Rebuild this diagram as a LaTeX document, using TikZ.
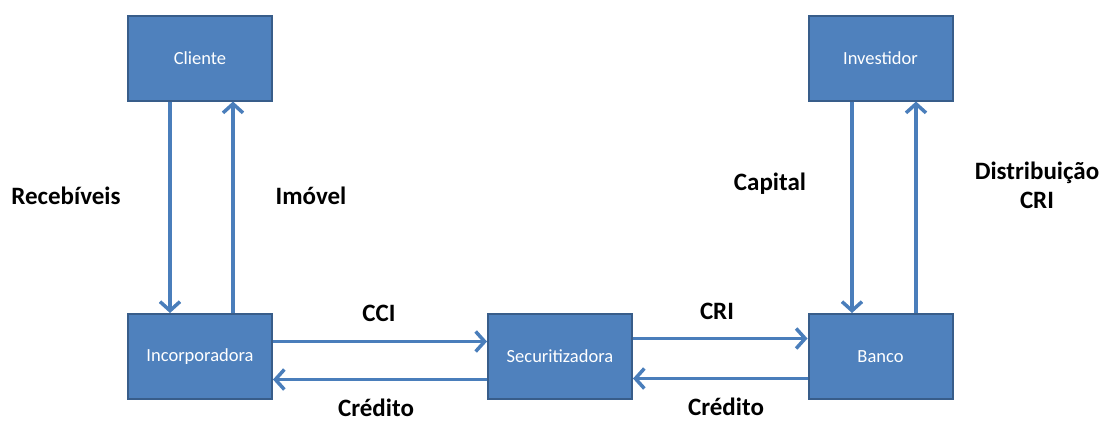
\documentclass[tikz,border=0pt]{standalone}
\usepackage{fontspec}
\setmainfont{Carlito}
\usetikzlibrary{arrows.meta}
\definecolor{boxfill}{RGB}{79,129,189}
\definecolor{boxline}{RGB}{56,93,138}
\definecolor{flow}{RGB}{74,126,187}

\tikzset{
  entity/.style={fill=boxfill, draw=boxline, line width=2pt,
                 minimum width=144pt, minimum height=85pt,
                 text=white, font=\fontsize{18.5}{22}\selectfont},
  flowarrow/.style={draw=flow, line width=3.5pt,
                    -{Straight Barb[length=9pt,width=20pt,line width=3.5pt]}},
  tag/.style={font=\fontsize{25}{29}\selectfont\bfseries, align=center,
              inner sep=0.5pt}
}

\begin{document}
\begin{tikzpicture}[x=1pt, y=-1pt]
  \useasboundingbox (0,0) rectangle (1104,421);

  % the five parties
  \node[entity] (cliente)  at (200,58)    {Cliente};
  \node[entity] (invest)   at (880.5,58)  {Investidor};
  \node[entity] (incorp)   at (200,356.5) {Incorporadora};
  \node[entity] (securit)  at (560,356.5) {Securitizadora};
  \node[entity] (banco)    at (880.5,356.5) {Banco};

  % vertical flows
  \draw[flowarrow] ([xshift=-30pt]cliente.south) -- ([xshift=-30pt]incorp.north);
  \draw[flowarrow] ([xshift=33pt]incorp.north) -- ([xshift=33pt]cliente.south);
  \draw[flowarrow] ([xshift=-28.5pt]invest.south) -- ([xshift=-28.5pt]banco.north);
  \draw[flowarrow] ([xshift=35.5pt]banco.north) -- ([xshift=35.5pt]invest.south);

  % horizontal flows
  \draw[flowarrow] ([yshift=15pt]incorp.east) -- ([yshift=15pt]securit.west);
  \draw[flowarrow] ([yshift=-23pt]securit.west) -- ([yshift=-23pt]incorp.east);
  \draw[flowarrow] ([yshift=18pt]securit.east) -- ([yshift=18pt]banco.west);
  \draw[flowarrow] ([yshift=-22pt]banco.west) -- ([yshift=-22pt]securit.east);

  % labels
  \node[tag] (recebiveis) at (66,196)   {Recebíveis};
  \node[tag] (imovel)     at (311,196)  {Imóvel};
  \node[tag] (capital)    at (770,184)  {Capital};
  \node[tag] (distrib)    at (1037,185) {Distribuição\\CRI};
  \node[tag] (cci)        at (379,313)  {CCI};
  \node[tag] (cri)        at (717,311)  {CRI};
  \node[tag] (credito1)   at (376,408)  {Crédito};
  \node[tag] (credito2)   at (726,407)  {Crédito};
\end{tikzpicture}
\end{document}
